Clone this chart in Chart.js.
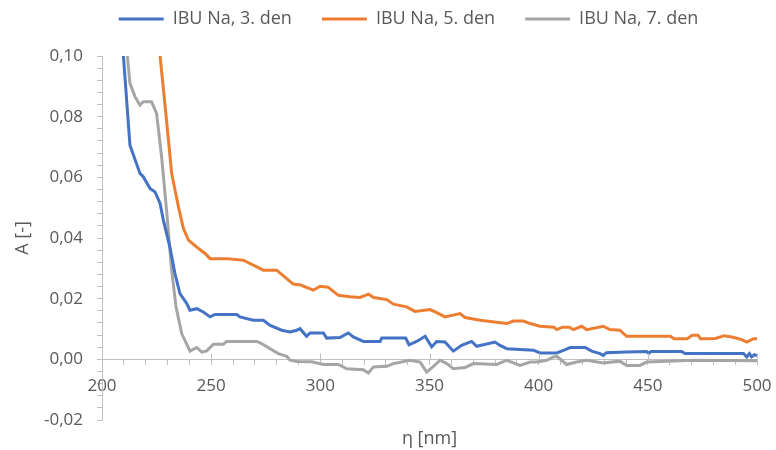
<!DOCTYPE html>
<html lang="cs">
<head>
<meta charset="utf-8">
<title>IBU Na – absorbance</title>
<script src="https://cdn.jsdelivr.net/npm/chart.js@4.4.1/dist/chart.umd.min.js"></script>
<style>
  html, body { margin: 0; padding: 0; background: #fff; }
</style>
</head>
<body>
<canvas id="chart" width="776" height="450"></canvas>
<script>
  // absorbance spectra, wavelength [nm] vs. A [-]
  var seriesNames = ['IBU Na, 3. den', 'IBU Na, 5. den', 'IBU Na, 7. den'];
  var seriesColors = ['#4472C4', '#ED7D31', '#A5A5A5'];

  var wl3 = [208, 209.8, 212.8, 217.4, 218.9, 222, 224.3, 226.6, 228.1, 231.1, 233.4, 235.7, 238.8, 240.3,
    243.4, 246.4, 249.5, 251.8, 261.7, 263.2, 269.3, 273.9, 277, 282.3, 286.1, 289.2, 290.7, 293.7, 295.3,
    301.4, 302.9, 309, 312.8, 315.1, 319.7, 327.4, 328.1, 339.1, 340.6, 344.1, 348, 351, 353.3, 357.1,
    360.9, 364.7, 369.3, 371.6, 380, 382.3, 385.4, 397.6, 400.6, 408.3, 412.2, 414.4, 421.3, 424.3, 428.1,
    429.6, 431, 440.3, 449.4, 450.5, 451.5, 465.5, 467, 493.8, 495.3, 496.5, 497.5, 498.8, 500];
  var abs3 = [0.12, 0.100, 0.0706, 0.0613, 0.0602, 0.0563, 0.0552, 0.0514, 0.0459, 0.037, 0.0283, 0.0217, 0.0184, 0.0162,
    0.0167, 0.0156, 0.014, 0.0148, 0.0148, 0.014, 0.0129, 0.0129, 0.0112, 0.0096, 0.009, 0.0096, 0.0101, 0.0076, 0.0087,
    0.0087, 0.007, 0.0072, 0.0087, 0.0074, 0.0059, 0.0059, 0.007, 0.007, 0.0048, 0.0059, 0.0076, 0.0041, 0.0059, 0.0057,
    0.0027, 0.0046, 0.0059, 0.0043, 0.0057, 0.0046, 0.0035, 0.003, 0.0021, 0.0021, 0.0032, 0.0039, 0.0039, 0.0027, 0.0019,
    0.0013, 0.0022, 0.0024, 0.0026, 0.002, 0.0026, 0.0026, 0.0019, 0.0019, 0.0008, 0.0019, 0.0008, 0.0015, 0.0012];

  var wl5 = [224, 226.6, 229.7, 231.9, 235, 237.3, 239.6, 243.4, 247.2, 249.5, 257.1, 264.7, 267.8, 270.9,
    273.9, 280, 284.6, 287.6, 291, 296.8, 299.9, 303.5, 308.3, 313.6, 318.2, 322, 324.5, 330.4, 333.5,
    339.5, 343.4, 350.3, 353.3, 357.1, 364, 366.3, 373.2, 385.4, 388.4, 393, 396.1, 400.6, 407, 408.3,
    411, 414, 415.9, 419.7, 422, 429.6, 432.6, 437.2, 440.3, 460.4, 461.9, 468, 470.3, 473, 474.1,
    481, 485, 489, 493, 495.3, 498.4, 500];
  var abs5 = [0.12, 0.100, 0.0778, 0.0613, 0.0503, 0.0431, 0.0393, 0.037, 0.0349, 0.0332, 0.0332, 0.0327, 0.0316, 0.0305,
    0.0294, 0.0294, 0.0266, 0.0248, 0.0245, 0.0228, 0.0241, 0.0238, 0.0211, 0.0206, 0.0204, 0.0215, 0.0204, 0.0197, 0.0182,
    0.0173, 0.0158, 0.0164, 0.0154, 0.014, 0.0151, 0.0138, 0.0129, 0.0118, 0.0126, 0.0126, 0.0118, 0.0109, 0.0106, 0.0098,
    0.0106, 0.0106, 0.0098, 0.0109, 0.0098, 0.0109, 0.0098, 0.0096, 0.0076, 0.0076, 0.0068, 0.0068, 0.0079, 0.0079, 0.0068,
    0.0069, 0.0078, 0.0073, 0.0065, 0.0057, 0.0068, 0.0068];

  var wl7 = [210, 211.6, 212.8, 215.1, 217.4, 218.9, 222.7, 225, 227.3, 229.7, 231.9, 233.9, 236.5, 240.3,
    243.4, 245.7, 248, 251, 255.6, 257.1, 270.9, 273.1, 277, 280.8, 284.6, 286.1, 289.2, 296, 301.4,
    308.3, 312.1, 319.7, 322, 324.3, 330.4, 333.5, 341.1, 345.7, 348.7, 351.8, 354.8, 357.9, 360.9,
    366.3, 370.1, 380.8, 385.4, 391.5, 396.1, 399.1, 403.7, 406.7, 408.3, 410.5, 412.8, 417.4, 422,
    429.6, 437.2, 440.3, 446.4, 449.4, 471, 500];
  var abs7 = [0.115, 0.100, 0.091, 0.0866, 0.0838, 0.0849, 0.0849, 0.0811, 0.0668, 0.0481, 0.0294, 0.0173, 0.0085, 0.0027,
    0.0039, 0.0024, 0.0028, 0.005, 0.005, 0.0059, 0.0059, 0.0052, 0.0035, 0.0019, 0.001, -0.0003, -0.0007, -0.0008, -0.0017,
    -0.0017, -0.0031, -0.0034, -0.0045, -0.0025, -0.0023, -0.0014, -0.0003, -0.0009, -0.0042, -0.0023, -0.0003, -0.0014, -0.0031,
    -0.0027, -0.0014, -0.0017, -0.0003, -0.002, -0.0009, -0.0009, -0.0003, 0.0008, 0.001, -0.0003, -0.0017, -0.0009, -0.0003,
    -0.0012, -0.0006, -0.002, -0.002, -0.0009, -0.0003, -0.0005];

  // axis ranges and tick steps (labels on the major steps only)
  var xMin = 200, xMax = 500, xMinor = 10, xMajor = 50;
  var yMin = -0.02, yMax = 0.10, yMinor = 0.004, yMajor = 0.02;

  var textColor = '#595959';
  var axisColor = '#BFBFBF';
  var family = '"Open Sans", "Liberation Sans", sans-serif';
  var tickFont = { family: family, size: 17 };
  var titleFont = { family: family, size: 18 };

  function toPoints(xs, ys) {
    return xs.map(function (x, i) { return { x: x, y: ys[i] }; });
  }

  function stepTicks(min, max, step) {
    var out = [];
    var n = Math.round((max - min) / step);
    for (var i = 0; i <= n; i++) out.push({ value: +(min + i * step).toFixed(6) });
    return out;
  }

  function isMultiple(v, step) {
    var q = v / step;
    return Math.abs(q - Math.round(q)) < 1e-6;
  }

  var datasets = [[wl3, abs3], [wl5, abs5], [wl7, abs7]].map(function (s, i) {
    return {
      label: seriesNames[i],
      data: toPoints(s[0], s[1]),
      borderColor: seriesColors[i],
      backgroundColor: seriesColors[i],
      borderWidth: 3,
      pointRadius: 0,
      tension: 0
    };
  });

  // nudge the legend row the way the layout needs it
  var legendNudge = {
    id: 'legendNudge',
    afterLayout: function (chart) {
      chart.legend.left += 60;
      chart.legend.top -= 18;
    }
  };

  // major x ticks cross the zero line, minor ones hang below it
  var crossTicks = {
    id: 'crossTicks',
    afterDraw: function (chart) {
      var xs = chart.scales.x, ys = chart.scales.y, ctx = chart.ctx;
      var y0 = Math.round(ys.getPixelForValue(0)) + 0.5;
      ctx.save();
      ctx.strokeStyle = axisColor;
      ctx.lineWidth = 1;
      ctx.beginPath();
      for (var v = xMin; v <= xMax; v += xMajor) {
        var px = Math.round(xs.getPixelForValue(v)) + 0.5;
        ctx.moveTo(px, y0 - 6);
        ctx.lineTo(px, y0);
      }
      ctx.stroke();
      ctx.restore();
    }
  };

  var config = {
    type: 'line',
    data: { datasets: datasets },
    options: {
      responsive: false,
      animation: false,
      layout: { padding: { left: 0, right: 19, top: -2, bottom: 30 } },
      plugins: {
        tooltip: { enabled: false },
        legend: {
          position: 'top',
          labels: {
            color: textColor,
            font: { family: family, size: 18 },
            boxWidth: 45,
            boxHeight: 3,
            padding: 30,
            generateLabels: function (chart) {
              return Chart.defaults.plugins.legend.labels.generateLabels(chart).map(function (l) {
                l.lineWidth = 0;
                l.fillStyle = l.strokeStyle;
                return l;
              });
            }
          }
        }
      },
      scales: {
        x: {
          type: 'linear',
          min: xMin,
          max: xMax,
          position: { y: 0 },
          afterBuildTicks: function (s) { s.ticks = stepTicks(xMin, xMax, xMinor); },
          afterFit: function (s) { s.paddingLeft = 0; s.paddingRight = 0; },
          ticks: {
            autoSkip: false,
            maxRotation: 0,
            padding: 12,
            color: textColor,
            font: tickFont,
            callback: function (v) { return isMultiple(v - xMin, xMajor) ? String(Math.round(v)) : ''; }
          },
          grid: { drawOnChartArea: false, drawTicks: true, tickLength: 5, color: axisColor },
          border: { color: axisColor, width: 1 },
          title: { display: true, text: 'η [nm]', color: textColor, font: titleFont, padding: { top: 19, bottom: 0 } }
        },
        y: {
          min: yMin,
          max: yMax,
          afterBuildTicks: function (s) { s.ticks = stepTicks(yMin, yMax, yMinor); },
          afterFit: function (s) { s.width = 102; },
          ticks: {
            autoSkip: false,
            padding: 14,
            color: textColor,
            font: tickFont,
            callback: function (v) { return isMultiple(v, yMajor) ? v.toFixed(2).replace('.', ',') : ''; }
          },
          grid: { drawOnChartArea: false, drawTicks: true, tickLength: 5, color: axisColor },
          border: { color: axisColor, width: 1 },
          title: { display: true, text: 'A [-]', color: textColor, font: titleFont, padding: { top: 12, bottom: 0 } }
        }
      }
    },
    plugins: [legendNudge, crossTicks]
  };

  new Chart(document.getElementById('chart').getContext('2d'), config);
</script>
</body>
</html>
